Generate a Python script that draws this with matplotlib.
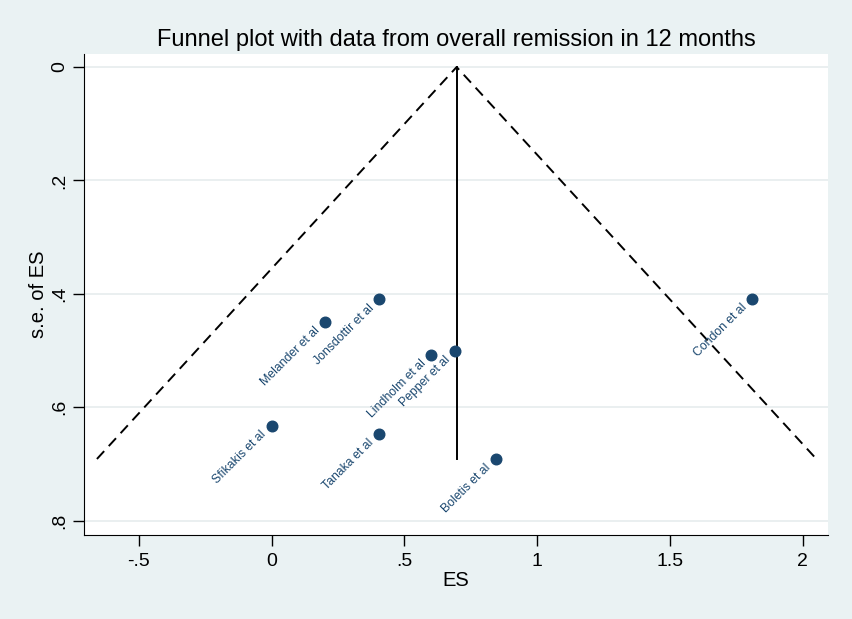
import matplotlib
matplotlib.use("Agg")
import matplotlib.pyplot as plt
import numpy as np

# ==========================================
# DATA
# ==========================================

studies = ["Sfikakis et al", "Melander et al", "Jonsdottir et al", "Lindholm et al",
           "Pepper et al", "Tanaka et al", "Boletis et al", "Condon et al"]
es = [0.0, 0.201, 0.405, 0.602, 0.692, 0.405, 0.845, 1.809]
se = [0.633, 0.449, 0.409, 0.507, 0.500, 0.647, 0.691, 0.409]

pooled = 0.697
se_max = 0.691

xticks = [-0.5, 0, 0.5, 1, 1.5, 2]
xticklabels = ["-.5", "0", ".5", "1", "1.5", "2"]
yticks = [0, 0.2, 0.4, 0.6, 0.8]
yticklabels = ["0", ".2", ".4", ".6", ".8"]

# ==========================================
# STYLE
# ==========================================

plt.rcParams['font.family'] = ['Liberation Sans', 'DejaVu Sans']
bg = "#eaf2f3"
navy = "#1a476f"

fig = plt.figure(figsize=(8.52, 6.19), dpi=100, facecolor=bg)
ax = fig.add_axes([0.0986, 0.1357, 0.8732, 0.7771])
ax.set_facecolor("white")

# ==========================================
# FUNNEL + POOLED LINE
# ==========================================

ax.plot([pooled - 1.96 * se_max, pooled, pooled + 1.96 * se_max],
        [se_max, 0, se_max], color="black", linestyle=(0, (5.5, 3.5)), linewidth=1.4)
ax.plot([pooled, pooled], [0, se_max], color="black", linewidth=1.4)

# ==========================================
# POINTS + LABELS
# ==========================================

ax.scatter(es, se, s=58, color=navy, zorder=3)
for name, x, y in zip(studies, es, se):
    ax.annotate(name, (x, y), xytext=(-5, -5), textcoords="offset points",
                rotation=45, rotation_mode="anchor", ha="right", va="center",
                fontsize=8.8, color=navy)

# ==========================================
# AXES
# ==========================================

ax.set_xlim(-0.706, 2.095)
ax.set_ylim(0.825, -0.023)

ax.set_xticks(xticks)
ax.set_xticklabels(xticklabels, fontsize=14)
ax.set_yticks(yticks)
ax.set_yticklabels(yticklabels, fontsize=14, rotation=90, va="center")
ax.tick_params(axis="x", direction="out", length=8, width=1, pad=5)
ax.tick_params(axis="y", direction="out", length=8, width=1, pad=3)

ax.grid(axis="y", color="#e6ecee", linewidth=1.2)
ax.set_axisbelow(True)

for sp in ["top", "right"]:
    ax.spines[sp].set_visible(False)

ax.set_xlabel("ES", fontsize=14.5, labelpad=1)
ax.set_ylabel("s.e. of ES", fontsize=14.5, labelpad=3)
ax.set_title("Funnel plot with data from overall remission in 12 months", fontsize=17, pad=6)

fig.savefig("out.png", dpi=100, facecolor=bg)
